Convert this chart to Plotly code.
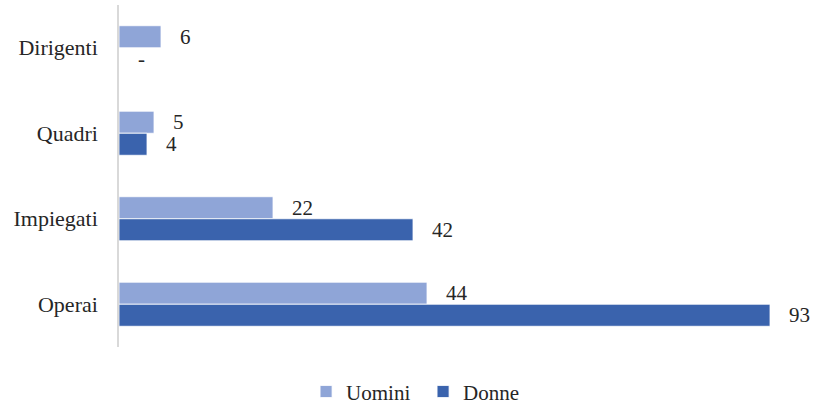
import plotly.graph_objects as go

categories = ["Dirigenti", "Quadri", "Impiegati", "Operai"]
uomini = [6, 5, 22, 44]
donne = [0, 4, 42, 93]
uomini_labels = ["6", "5", "22", "44"]
donne_labels = ["-", "4", "42", "93"]

c_u = "#8FA5D7"
c_d = "#3A63AD"
font_family = "'Liberation Serif', 'Times New Roman', serif"

fig = go.Figure()
fig.add_trace(go.Bar(y=categories, x=uomini, name="Uomini", orientation="h",
                     marker=dict(color=c_u, line=dict(color="white", width=0.8))))
fig.add_trace(go.Bar(y=categories, x=donne, name="Donne", orientation="h",
                     marker=dict(color=c_d, line=dict(color="white", width=0.8))))

ann = []
for i, cat in enumerate(categories):
    ann.append(dict(x=uomini[i], y=cat, text=uomini_labels[i], xref="x", yref="y",
                    xanchor="left", yanchor="middle", xshift=17, yshift=11,
                    showarrow=False, font=dict(size=21, color="#262626", family=font_family)))
    ann.append(dict(x=donne[i], y=cat, text=donne_labels[i], xref="x", yref="y",
                    xanchor="left", yanchor="middle", xshift=17, yshift=-11,
                    showarrow=False, font=dict(size=21, color="#262626", family=font_family)))

fig.update_layout(
    width=814, height=404,
    margin=dict(l=119, r=23, t=5, b=57, autoexpand=False),
    barmode="group", bargap=0.485, bargroupgap=0,
    plot_bgcolor="white", paper_bgcolor="white",
    font=dict(family=font_family, size=21, color="#262626"),
    showlegend=True,
    legend=dict(orientation="h", xref="container", x=0.376, xanchor="left",
                yref="container", y=0.03, yanchor="middle", entrywidth=72,
                font=dict(size=21, color="#262626", family=font_family), traceorder="normal"),
    annotations=ann,
)
fig.update_xaxes(range=[0, 96], showgrid=False, showticklabels=False, zeroline=False,
                 showline=False, automargin=False)
fig.update_yaxes(autorange="reversed", showgrid=False, showline=True, linecolor="#D9D9D9",
                 linewidth=1.5, ticks="", ticklabelstandoff=15, automargin=False,
                 tickfont=dict(size=22, color="#262626", family=font_family))

fig.write_html("out.html", config={"displayModeBar": False},
               post_script="document.body.style.margin='0px';")
